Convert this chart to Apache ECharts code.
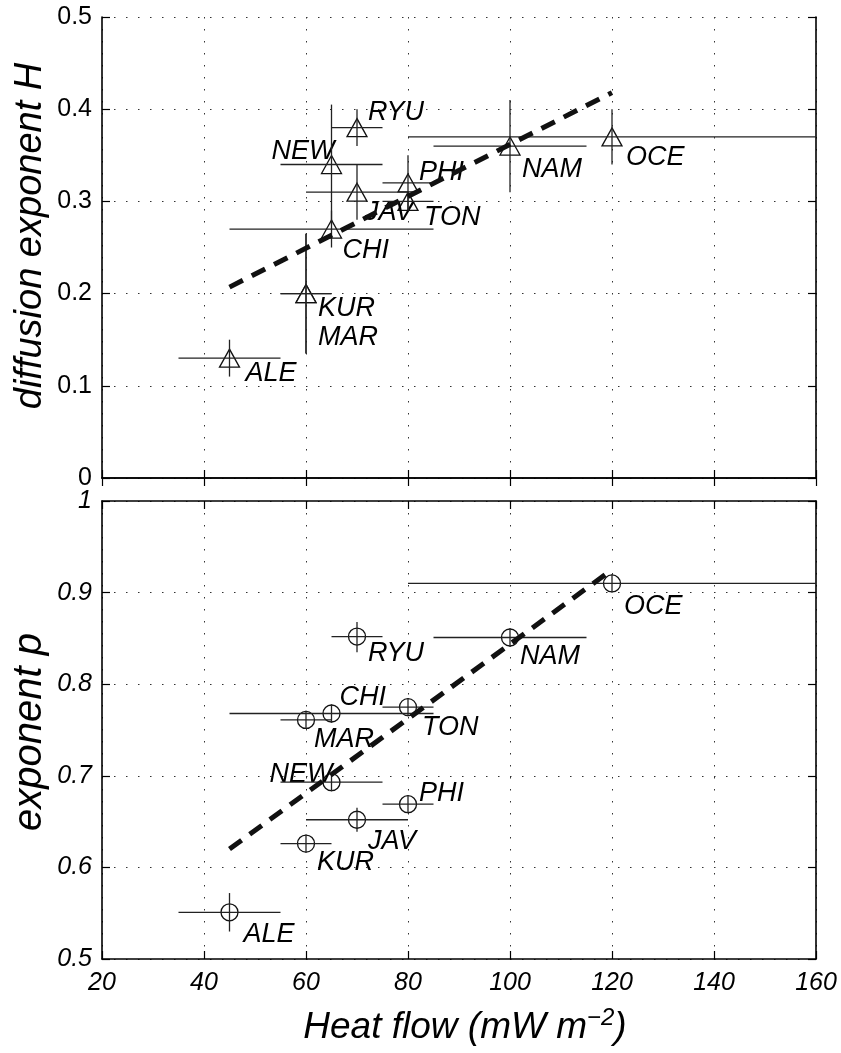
<!DOCTYPE html>
<html>
<head>
<meta charset="utf-8">
<script src="https://cdn.jsdelivr.net/npm/echarts@6/dist/echarts.min.js"></script>
<style>
html, body { margin: 0; background: #fff; }
#main { width: 841px; height: 1053px; }
</style>
</head>
<body>
<div id="main"></div>
<script>
// stations and heat flow (mW m-2) with their ranges
var stations   = ['ALE', 'KUR', 'MAR', 'CHI', 'NEW', 'RYU', 'JAV', 'PHI', 'TON', 'NAM', 'OCE'];
var heatFlow   = [45, 60, 60, 65, 65, 70, 70, 80, 80, 100, 120];
var heatFlowLo = [35, 55, 55, 45, 55, 65, 60, 75, 75, 85, 80];
var heatFlowHi = [55, 65, 65, 85, 75, 75, 80, 85, 85, 115, 160];

// diffusion exponent H
var hValue = [0.13, 0.20, 0.20, 0.27, 0.34, 0.38, 0.31, 0.32, 0.30, 0.36, 0.37];
var hLo    = [0.11, 0.135, 0.135, 0.25, 0.275, 0.36, 0.28, 0.29, 0.29, 0.31, 0.34];
var hHi    = [0.15, 0.265, 0.265, 0.29, 0.405, 0.40, 0.34, 0.35, 0.31, 0.41, 0.40];

// exponent p
var pValue = [0.551, 0.626, 0.761, 0.768, 0.693, 0.852, 0.652, 0.669, 0.775, 0.851, 0.910];
var pLo    = [0.530, 0.616, 0.751, 0.758, 0.683, 0.835, 0.639, 0.659, 0.765, 0.841, 0.900];
var pHi    = [0.572, 0.636, 0.771, 0.778, 0.703, 0.868, 0.665, 0.679, 0.785, 0.861, 0.920];

// dashed fit lines
var fitX  = [45, 120];
var fitH  = [0.207, 0.418];
var fitP  = [0.620, 0.925];

// axis ticks
var xTicks = [20, 40, 60, 80, 100, 120, 140, 160];
var hTicks = [0, 0.1, 0.2, 0.3, 0.4, 0.5];
var pTicks = [0.5, 0.6, 0.7, 0.8, 0.9, 1];

// where the station names sit, pixels from the marker centre
var labelPosH = {
    ALE: [16, 15], KUR: [12, 15], MAR: [12, 44], CHI: [11, 21], NEW: [-60, -13], RYU: [11, -15],
    JAV: [8, 20], PHI: [11, -10], TON: [16, 16], NAM: [12, 23], OCE: [14, 21]
};
var labelPosP = {
    ALE: [14, 22], KUR: [11, 19], MAR: [8, 20], CHI: [8, -16], NEW: [-62, -8], RYU: [11, 17],
    JAV: [11, 22], PHI: [11, -11], TON: [14, 20], NAM: [10, 19], OCE: [12, 23]
};

var FONT = '"Liberation Sans", Arial, Helvetica, sans-serif';
var myChart = echarts.init(document.getElementById('main'));

function barData(yv, ylo, yhi) {
    return stations.map(function (s, i) {
        return [heatFlow[i], yv[i], heatFlowLo[i], heatFlowHi[i], ylo[i], yhi[i]];
    });
}

function pointData(yv, pos) {
    return stations.map(function (s, i) {
        return {
            name: s,
            value: [heatFlow[i], yv[i]],
            label: { offset: pos[s] }
        };
    });
}

// error bars, drawn on top of the white markers so they cross them
function renderBars(params, api) {
    var x = api.value(0), y = api.value(1);
    var l = api.coord([api.value(2), y]);
    var r = api.coord([api.value(3), y]);
    var b = api.coord([x, api.value(4)]);
    var t = api.coord([x, api.value(5)]);
    var st = { stroke: '#222', lineWidth: 1.3 };
    return {
        type: 'group',
        children: [
            { type: 'line', shape: { x1: l[0], y1: l[1], x2: r[0], y2: r[1] }, style: st },
            { type: 'line', shape: { x1: b[0], y1: b[1], x2: t[0], y2: t[1] }, style: st }
        ]
    };
}

function xAxisFor(grid, pos, labels, split) {
    return {
        type: 'value', gridIndex: grid, position: pos,
        min: xTicks[0], max: xTicks[xTicks.length - 1], interval: 20,
        axisLine: { show: true, lineStyle: { color: '#000', width: 1.6 } },
        axisTick: { show: true, inside: true, length: 8, lineStyle: { color: '#000', width: 1.2 } },
        axisLabel: {
            show: labels, margin: 12, color: '#000',
            fontFamily: FONT, fontSize: 25, fontStyle: 'italic'
        },
        splitLine: { show: split, lineStyle: { color: '#333', width: 1, type: [1.5, 10.5] } }
    };
}

function yAxisFor(grid, pos, ticks, labels, split, italic) {
    return {
        type: 'value', gridIndex: grid, position: pos,
        min: ticks[0], max: ticks[ticks.length - 1], interval: 0.1,
        axisLine: { show: true, lineStyle: { color: '#000', width: 1.6 } },
        axisTick: { show: true, inside: true, length: 8, lineStyle: { color: '#000', width: 1.2 } },
        axisLabel: {
            show: labels, margin: 10, color: '#000',
            fontFamily: FONT, fontSize: 25, fontStyle: italic ? 'italic' : 'normal'
        },
        splitLine: { show: split, lineStyle: { color: '#333', width: 1, type: [1.5, 10.5] } }
    };
}

function markerSeries(name, xi, yi, symbol, size, yv, pos) {
    return {
        name: name, type: 'scatter', xAxisIndex: xi, yAxisIndex: yi,
        symbol: symbol, symbolSize: size, z: 2,
        itemStyle: { color: '#fff', borderColor: '#111', borderWidth: 1.3, opacity: 1 },
        label: {
            show: true, position: 'inside', align: 'left', verticalAlign: 'middle',
            formatter: '{b}', color: '#000', opacity: 1, textBorderWidth: 0,
            fontFamily: FONT, fontSize: 27, fontStyle: 'italic'
        },
        emphasis: { disabled: true },
        data: pointData(yv, pos)
    };
}

function fitSeries(xi, yi, yv) {
    return {
        type: 'line', xAxisIndex: xi, yAxisIndex: yi, symbol: 'none', z: 4,
        lineStyle: { color: '#111', width: 5, type: [15, 10] },
        data: fitX.map(function (x, i) { return [x, yv[i]]; })
    };
}

option = {
    animation: false,
    backgroundColor: '#fff',
    grid: [
        { left: 102, top: 17, width: 714, height: 461 },
        { left: 102, top: 501, width: 714, height: 458 }
    ],
    xAxis: [
        xAxisFor(0, 'bottom', false, true),
        xAxisFor(0, 'top', false, false),
        xAxisFor(1, 'bottom', true, true),
        xAxisFor(1, 'top', false, false)
    ],
    yAxis: [
        yAxisFor(0, 'left', hTicks, true, true, false),
        yAxisFor(0, 'right', hTicks, false, false, false),
        yAxisFor(1, 'left', pTicks, true, true, true),
        yAxisFor(1, 'right', pTicks, false, false, true)
    ],
    graphic: [
        {
            type: 'text', x: 30, y: 236, rotation: Math.PI / 2,
            style: {
                text: 'diffusion exponent H', fill: '#000', align: 'center', verticalAlign: 'middle',
                font: 'italic 38px ' + FONT
            }
        },
        {
            type: 'text', x: 30, y: 732, rotation: Math.PI / 2,
            style: {
                text: 'exponent p', fill: '#000', align: 'center', verticalAlign: 'middle',
                font: 'italic 40px ' + FONT
            }
        },
        {
            type: 'text', x: 465, y: 1028,
            style: {
                text: '{m|Heat flow (mW m}{s|\u22122}{m|)}',
                align: 'center', verticalAlign: 'middle',
                rich: {
                    m: { fontFamily: FONT, fontStyle: 'italic', fontSize: 37, lineHeight: 44, fill: '#000' },
                    s: { fontFamily: FONT, fontStyle: 'italic', fontSize: 24, verticalAlign: 'top', fill: '#000' }
                }
            }
        }
    ],
    series: [
        { type: 'custom', xAxisIndex: 0, yAxisIndex: 0, renderItem: renderBars, clip: true, z: 3,
          data: barData(hValue, hLo, hHi) },
        fitSeries(0, 0, fitH),
        markerSeries('H', 0, 0, 'triangle', [20, 18], hValue, labelPosH),
        { type: 'custom', xAxisIndex: 2, yAxisIndex: 2, renderItem: renderBars, clip: true, z: 3,
          data: barData(pValue, pLo, pHi) },
        fitSeries(2, 2, fitP),
        markerSeries('p', 2, 2, 'circle', 17, pValue, labelPosP)
    ]
};

myChart.setOption(option);
</script>
</body>
</html>
